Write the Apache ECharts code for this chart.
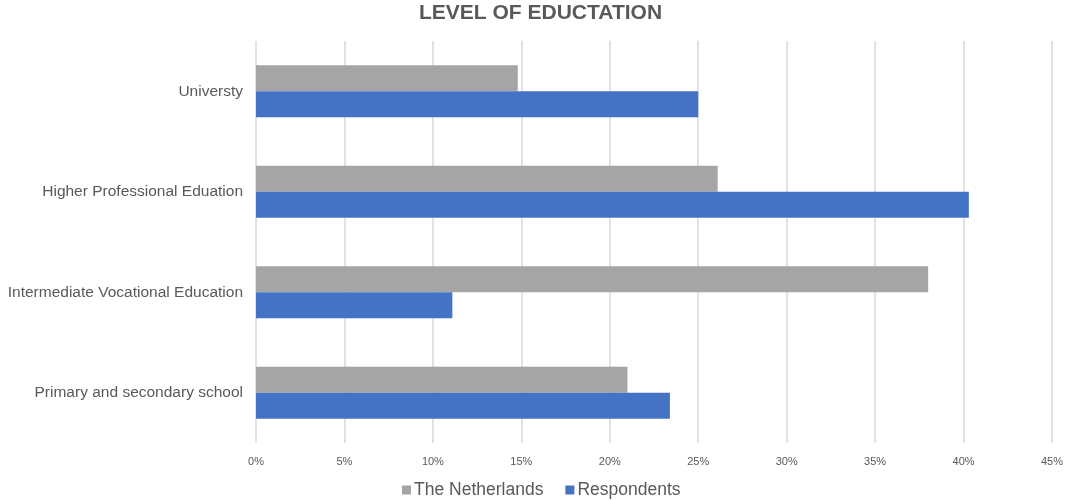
<!DOCTYPE html>
<html>
<head>
<meta charset="utf-8">
<script src="https://cdn.jsdelivr.net/npm/echarts@6/dist/echarts.min.js"></script>
<style>
  html, body { margin: 0; padding: 0; background: #ffffff; }
  #chart { width: 1066px; height: 500px; }
</style>
</head>
<body>
<div id="chart"></div>
<script>
// Education levels, bottom to top on the category axis
const categories = [
  'Primary and secondary school',
  'Intermediate Vocational Education',
  'Higher Professional Eduation',
  'Universty'
];
// Share per level, in percent
const netherlands = [21.0, 38.0, 26.1, 14.8];
const respondents = [23.4, 11.1, 40.3, 25.0];
const seriesNames = ['The Netherlands', 'Respondents'];
const xTicks = { min: 0, max: 45, interval: 5 };

const textColor = '#595959';
const chart = echarts.init(document.getElementById('chart'));
chart.setOption({
  animation: false,
  title: {
    text: 'LEVEL OF EDUCTATION',
    left: 419,
    top: 0,
    padding: [3, 0, 0, 0],
    textStyle: { fontFamily: 'Liberation Sans', fontWeight: 'bold', fontSize: 21, color: textColor }
  },
  legend: {
    data: seriesNames,
    top: 481,
    left: 402,
    padding: 0,
    itemWidth: 9,
    itemHeight: 9,
    itemGap: 22,
    icon: 'rect',
    textStyle: { fontFamily: 'Liberation Sans', fontSize: 17.5, color: textColor, padding: [0, 0, 0, -2] }
  },
  grid: { left: 256, right: 10, top: 41, bottom: 57, containLabel: false },
  xAxis: {
    type: 'value',
    min: xTicks.min,
    max: xTicks.max,
    interval: xTicks.interval,
    axisLine: { show: false },
    axisTick: { show: false },
    axisLabel: {
      formatter: v => v + '%',
      fontFamily: 'Liberation Sans Narrow, Liberation Sans',
      fontSize: 11,
      color: textColor,
      margin: 13
    },
    splitLine: { show: true, lineStyle: { color: '#d9d9d9', width: 1.5 } }
  },
  yAxis: {
    type: 'category',
    data: categories,
    axisLine: { show: false },
    axisTick: { show: false },
    axisLabel: {
      fontFamily: 'Liberation Sans',
      fontSize: 15.5,
      color: textColor,
      margin: 13
    }
  },
  series: [
    {
      name: seriesNames[0],
      type: 'bar',
      data: netherlands,
      barWidth: 26,
      barGap: '0%',
      itemStyle: { color: '#A5A5A5' }
    },
    {
      name: seriesNames[1],
      type: 'bar',
      data: respondents,
      barWidth: 26,
      barGap: '0%',
      itemStyle: { color: '#4472C4' }
    }
  ]
});
</script>
</body>
</html>
